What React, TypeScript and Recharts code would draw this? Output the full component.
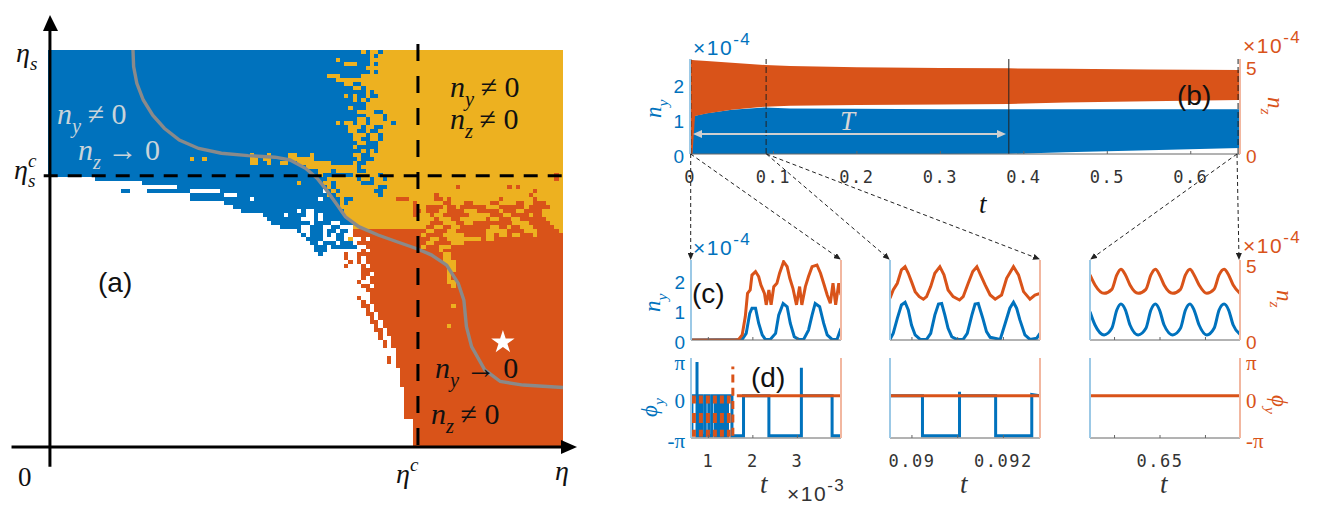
import {
  ComposedChart,
  ScatterChart,
  Scatter,
  Area,
  Line,
  XAxis,
  YAxis,
  ReferenceLine,
  Symbols,
} from "recharts";

const BLUE = "#0072BD";
const ORANGE = "#D95319";
const YELLOW = "#EDB120";
const GRAY = "#8a8a8a";
const SERIF = "'Liberation Serif', serif";
const SANS = "'Liberation Sans', sans-serif";
const MONO = "'DejaVu Sans Mono', monospace";

// phase map, one string per row from the top: letter = phase, number = first column of the run
const NC = 120;
const NR = 100;
const phaseRows = [
  "B0 Y73 B74 Y75 B77 Y78",
  "B0 Y75 B76 Y77",
  "B0 Y67 B68 Y75",
  "B0 Y69 B72 Y75 B76 Y77",
  "B0 Y74",
  "B0 Y75 B76 Y77",
  "B0 Y65 B68 Y73",
  "B0 Y67",
  "B0 Y69 B71 Y73",
  "B0 Y71 B73 Y74",
  "B0 Y74 B75 Y76",
  "B0 Y69 B70 Y71 B72 Y74 B75 Y77",
  "B0 Y71 B72 Y73 B74 Y75",
  "B0 Y74",
  "B0 Y70 B71 Y74",
  "B0 Y72 B76 Y78",
  "B0 Y74 B78 Y79",
  "B0 Y72 B74 Y75 B78 Y79",
  "B0 Y67 B68 Y69 B71 Y72 B74 Y75 B80 Y81",
  "B0 Y70 B73 Y74 B76 Y78",
  "B0 Y70 B72 Y74 B75 Y77",
  "B0 Y71 B74 Y75 B77 Y78",
  "B0 Y71 B73 Y75 B77 Y78",
  "B0 Y72 B74 Y77",
  "B0 Y71 B72 Y77",
  "B0 Y73 B74 Y75 B76 Y77",
  "B0 Y47 B48 Y51 B52 Y56 B58 Y61 B62 Y71 B73 Y75",
  "B0 Y33 B34 Y36 B37 Y47 B49 Y50 B52 Y56 B62 Y72 B73 Y76",
  "B0 Y47 B49 Y51 B52 Y54 B56 Y58 B66 Y71 B72 Y74",
  "B0 Y60 B72 Y73",
  "B0 Y63 B66 Y67 B72 Y74",
  "B0 Y63 B64 Y71 B77 Y78 O118 Y119",
  "W0 B11 Y65 B72 Y73 B75 Y76 B78 Y79 O118 Y119",
  "W0 B22 Y58 B59 Y64 B66 Y67 B73 Y76",
  "W0 B30 Y65 B66 Y67 B77 Y79 O95 Y96 O107 Y108 O109 Y110",
  "W0 B17 W19 B23 W33 B40 W64 B65 Y66 B67 Y68 B76 Y78 O113 Y114",
  "W0 B33 W41 B44 Y65 B66 Y67 B77 Y78 O90 Y91 O112 Y113",
  "W0 B33 W47 B48 W63 B64 Y68 B69 Y71 O81 Y84 O90 Y92 O93 Y94 O105 Y106 O113 Y114",
  "W0 B41 Y68 B69 Y70 O85 Y86 O92 Y94 O97 Y99 O103 Y105 O109 Y111 O113 Y116",
  "W0 B43 Y68 O85 Y86 O88 Y92 O93 Y95 O96 Y102 O105 Y111 O112 Y117",
  "W0 B45 W58 B59 W60 B62 Y69 O85 Y87 O88 Y91 O93 Y97 O100 Y105 O106 Y109 O111 Y115",
  "W0 B50 W55 B56 W60 B62 W63 B64 Y69 O85 Y86 O89 Y90 O92 Y98 O103 Y106 O108 Y112 O113 Y115",
  "W0 B51 W59 B62 W63 B64 Y70 O90 Y91 O94 Y96 O102 Y103 O105 Y108 O110 Y116",
  "W0 B52 W61 B62 W66 B68 Y71 O89 Y92 O95 Y97 O99 Y108 O112 Y117",
  "W0 B54 W59 B61 W64 B66 W68 Y71 O88 Y90 O92 Y94 O96 Y103 O105 Y107 O108 Y110 O113 Y118",
  "W0 B58 W59 B61 W64 B65 W67 B68 W70 O71 Y88 O90 Y93 O95 Y102 O107 Y111 O114 Y119",
  "W0 B59 W60 B61 W64 B65 W66 B67 W69 O71 Y87 O88 Y92 O97 Y102 O104 Y105 O107 Y108 O110 Y113 O114",
  "W0 B60 W64 B67 W69 Y70 W71 O73 W74 O75 Y89 O91 Y93 O101 Y102 O104",
  "W0 B61 W63 B64 W67 B68 W71 O72 Y88 O90 Y94 O97",
  "W0 B62 W65 B66 W72 O74 Y87 O88 Y91 O94",
  "W0 B62 W65 O73 W74 O75 Y91 O92",
  "W0 B63 W64 O69 W70 O72 Y92 O94",
  "W0 O69 W70 O72 W73 O74 Y92 O94",
  "W0 O70 W71 O72 W73 O74 Y92 O95",
  "W0 O69 W70 O73 W74 O75 Y93 O95",
  "W0 O73 Y93 O95",
  "W0 O73 W75 O76 Y93 O94",
  "W0 O73 W74 O75 Y93 O94",
  "W0 O72 W73 O75 Y93 O95",
  "W0 O73 W75 O76 Y94 O95",
  "W0 O74",
  "W0 O75",
  "W0 O72 W73 O75",
  "W0 O73 W74 O75",
  "W0 O73 W75 O76 Y94 O95",
  "W0 O74 W75 O76",
  "W0 O74 W76 O77",
  "W0 O75 W76 O77",
  "W0 O75 W77 O78",
  "W0 O76 W77 O78 Y93 O94",
  "W0 O76 W78 O79",
  "W0 O77 W78 O79",
  "W0 O77 W78 O80",
  "W0 O78 W79 O80",
  "W0 O78 W79 O80",
  "W0 O81",
  "W0 O81",
  "W0 O79 W80 O81",
  "W0 O79 W80 O81",
  "W0 O81",
  "W0 O82",
  "W0 O82",
  "W0 O82",
  "W0 O82",
  "W0 O82",
  "W0 O83",
  "W0 O83",
  "W0 O83",
  "W0 O83",
  "W0 O83",
  "W0 O83",
  "W0 O83",
  "W0 O83",
  "W0 O85",
  "W0 O85",
  "W0 O85",
  "W0 O85",
  "W0 O85",
  "W0 O85",
  "W0 O85",
];

// grey separatrix over the phase map (column, row)
const curveCol = [19.8, 19.95, 20.7, 22.2, 24.4, 27.1, 30.6, 35.1, 40.4, 46.6, 52.9, 56.4, 60, 62.7, 64.9, 67.1, 69.3, 72.4, 76.9, 81.3, 85.8, 89.3, 92.9, 95.6, 96.9, 97.5, 98.7, 101.8, 105.4, 110.7, 120];
const curveRow = [0, 4.2, 8.4, 12.6, 16.4, 19.7, 22.7, 24.8, 26, 26.6, 27, 27.7, 29.8, 32.3, 35.3, 38.6, 42, 44.5, 46.6, 48.3, 50, 51.6, 54.2, 58.8, 63, 69.7, 74.7, 80.6, 83.5, 84.4, 85];

// (b) long run envelopes
const bTimes = [0, 0.003, 0.006, 0.02, 0.05, 0.09, 0.12, 0.2, 0.3, 0.382, 0.45, 0.55, 0.659];
const bBlueLow = [0, 0, 0, 0, 0, 0, 0, 0, 0, 0.005, 0.05, 0.11, 0.17];
const bBlueHigh = [0, 1.02, 1.09, 1.16, 1.26, 1.33, 1.3, 1.29, 1.28, 1.28, 1.28, 1.28, 1.28];
const bOrangeLow = [0, 0, 2.16, 2.3, 2.52, 2.69, 2.74, 2.78, 2.82, 2.84, 2.93, 3.0, 3.07];
const bOrangeHigh = [5.34, 5.34, 5.33, 5.28, 5.18, 5.06, 5.0, 4.93, 4.89, 4.87, 4.84, 4.8, 4.77];

// (c) onset, t in units of 1e-3
const c1BlueT = [0.61, 1.76, 1.85, 1.93, 1.98, 2.06, 2.13, 2.21, 2.28, 2.39, 2.51, 2.58, 2.68, 2.77, 2.84, 2.93, 3.03, 3.14, 3.25, 3.33, 3.4, 3.5, 3.59, 3.67, 3.78, 3.89, 3.98];
const c1BlueV = [0, 0.02, 0.22, 0.89, 1.06, 1.06, 0.56, 0.17, 0.02, 0.02, 0.22, 0.83, 1.22, 1.11, 0.56, 0.11, 0.02, 0.02, 0.33, 0.83, 1.22, 1.11, 0.56, 0.17, 0.02, 0.02, 0.39];
const c1OrangeT = [0.61, 1.6, 1.68, 1.76, 1.83, 1.88, 1.94, 1.98, 2.06, 2.13, 2.18, 2.26, 2.3, 2.36, 2.41, 2.47, 2.54, 2.6, 2.69, 2.77, 2.83, 2.9, 2.98, 3.05, 3.1, 3.18, 3.25, 3.33, 3.44, 3.52, 3.59, 3.67, 3.74, 3.8, 3.86, 3.93, 3.98];
const c1OrangeV = [0, 0, 0.04, 0.33, 1.54, 3.07, 3.29, 4.27, 4.5, 4.17, 3.62, 3.07, 2.31, 3.29, 2.31, 3.51, 3.73, 4.39, 5.15, 4.82, 4.06, 3.4, 2.31, 3.51, 2.31, 3.51, 4.17, 4.82, 4.93, 4.39, 3.73, 2.96, 2.41, 3.73, 2.31, 3.73, 2.96];

// (c) middle window
const c2BlueT = [0.08952, 0.08959, 0.08968, 0.08977, 0.08985, 0.08992, 0.08999, 0.09007, 0.09018, 0.09032, 0.09041, 0.0905, 0.09058, 0.09065, 0.09072, 0.09079, 0.09087, 0.09098, 0.09112, 0.09121, 0.09131, 0.09138, 0.09145, 0.09155, 0.09163, 0.09171, 0.09193, 0.09204, 0.09214, 0.09222, 0.09229, 0.09236, 0.09247, 0.09258, 0.09273, 0.0928];
const c2BlueV = [0.02, 0.22, 0.72, 1.17, 1.26, 1.0, 0.5, 0.17, 0.02, 0.02, 0.22, 0.83, 1.2, 1.22, 0.83, 0.39, 0.11, 0.02, 0.02, 0.22, 0.83, 1.2, 1.22, 0.72, 0.28, 0.09, 0.02, 0.56, 1.06, 1.26, 1.06, 0.67, 0.17, 0.02, 0.06, 0.22];
const c2OrangeT = [0.08952, 0.08959, 0.08968, 0.08977, 0.08985, 0.08992, 0.08999, 0.09007, 0.09016, 0.09025, 0.09032, 0.09041, 0.0905, 0.09061, 0.0907, 0.09079, 0.0909, 0.09104, 0.09112, 0.09123, 0.09133, 0.09142, 0.0915, 0.0916, 0.09171, 0.09182, 0.09196, 0.09207, 0.09222, 0.09233, 0.09244, 0.09258, 0.09269, 0.0928];
const c2OrangeV = [2.74, 3.29, 3.73, 4.61, 4.82, 4.39, 3.84, 3.18, 2.85, 2.68, 2.85, 3.51, 4.39, 4.82, 4.28, 3.29, 2.85, 2.63, 2.85, 3.73, 4.5, 4.82, 4.28, 3.62, 2.96, 2.68, 2.96, 4.06, 4.82, 4.28, 3.18, 2.68, 2.96, 3.07];

// (c) late window
const c3T = [0.64846, 0.64857, 0.64877, 0.64894, 0.64905, 0.64914, 0.64924, 0.64934, 0.64952, 0.64969, 0.6498, 0.6499, 0.64999, 0.65009, 0.65028, 0.65045, 0.65056, 0.65066, 0.65075, 0.65086, 0.65103, 0.65119, 0.6513, 0.65141, 0.65151, 0.65161, 0.65176];
const c3BlueV = [0.94, 0.5, 0.17, 0.39, 1.0, 1.2, 1.0, 0.5, 0.17, 0.39, 1.0, 1.2, 1.0, 0.5, 0.17, 0.39, 1.0, 1.2, 1.0, 0.5, 0.17, 0.39, 1.0, 1.2, 1.0, 0.5, 0.19];
const c3OrangeV = [4.28, 3.62, 3.07, 3.33, 4.28, 4.65, 4.28, 3.62, 3.07, 3.33, 4.28, 4.65, 4.28, 3.62, 3.07, 3.33, 4.28, 4.65, 4.28, 3.62, 3.07, 3.33, 4.28, 4.65, 4.28, 3.62, 3.07];

// (d) phases
const d1BlueT = [0.63, 0.63, 0.745, 0.745, 0.745, 0.81, 0.81, 0.86, 0.86, 0.93, 0.93, 1.01, 1.01, 1.08, 1.08, 1.16, 1.16, 1.21, 1.21, 1.27, 1.27, 1.33, 1.33, 1.38, 1.38, 1.43, 1.43, 1.53, 1.53, 1.53, 1.79, 1.79, 2.36, 2.36, 3.09, 3.09, 3.09, 3.78, 3.78, 3.98];
const d1BlueV = [-3.14, 0, 0, 2.65, -3.14, -3.14, 0, 0, -3.14, -3.14, 0, 0, -3.14, -3.14, 0, 0, -3.14, -3.14, 0, 0, -3.14, -3.14, 0, 0, -3.14, -3.14, 0, 0, -3.14, -3.14, -3.14, 0, 0, -3.14, -3.14, 2.2, 0, 0, -3.14, -3.14];
const d1BandT = [0.63, 1.5];
const d1BandTop = [-0.3, -0.3];
const d1BandMid = [-1.75, -1.75];
const d1BandLow = [-2.95, -2.95];
const d1OrangeGapT = [1.55, 1.55];
const d1OrangeGapV = [-3.14, 2.3];
const d1OrangeFlatT = [1.64, 3.98];
const d1OrangeFlatV = [0, 0];
const d2BlueT = [0.08952, 0.09023, 0.09023, 0.09104, 0.09104, 0.09104, 0.09183, 0.09183, 0.09262, 0.09262, 0.0928];
const d2BlueV = [0, 0, -3.14, -3.14, 0.31, 0, 0, -3.14, -3.14, 0.1, 0];
const d2OrangeT = [0.08952, 0.0928];
const d2OrangeV = [0, 0];
const d3OrangeT = [0.64846, 0.65176];
const d3OrangeV = [0, 0];

const xy = (xs: number[], ys: number[]) => xs.map((t, i) => ({ t, v: ys[i] }));

type Run = { col: number; row: number; len: number };

function runsOf(letter: string): Run[] {
  const out: Run[] = [];
  phaseRows.forEach((line, row) => {
    const parts = line.split(" ");
    parts.forEach((p, i) => {
      if (p[0] !== letter) return;
      const start = Number(p.slice(1));
      const end = i + 1 < parts.length ? Number(parts[i + 1].slice(1)) : NC;
      out.push({ col: start + (end - start) / 2, row: row + 0.5, len: end - start });
    });
  });
  return out;
}

const mapLeft = 48;
const mapTop = 50;
const mapW = 515;
const mapH = 397;
const mapMargin = { left: mapLeft, top: mapTop, right: 600 - mapLeft - mapW, bottom: 532 - mapTop - mapH };

function cellShape(fill: string) {
  return (p: any) => {
    const w = (p.payload.len * mapW) / NC;
    const h = mapH / NR;
    const x0 = Math.round(p.cx - w / 2);
    const x1 = Math.round(p.cx + w / 2);
    const y0 = Math.round(p.cy - h / 2);
    const y1 = Math.round(p.cy + h / 2);
    return <rect x={x0} y={y0} width={x1 - x0} height={y1 - y0} fill={fill} shapeRendering="crispEdges" />;
  };
}

const noDot = () => <g />;

function MapAxes() {
  return (
    <>
      <XAxis type="number" dataKey="col" domain={[0, NC]} hide allowDataOverflow />
      <YAxis type="number" dataKey="row" domain={[0, NR]} reversed hide allowDataOverflow />
    </>
  );
}

function PhaseMap() {
  return (
    <>
      <div style={{ position: "absolute", left: 0, top: 0 }}>
        <ScatterChart width={600} height={532} margin={mapMargin}>
          <XAxis type="number" dataKey="col" domain={[0, NC]} hide allowDataOverflow />
          <YAxis type="number" dataKey="row" domain={[0, NR]} reversed hide allowDataOverflow />
          <Scatter data={runsOf("B")} shape={cellShape(BLUE)} isAnimationActive={false} />
          <Scatter data={runsOf("Y")} shape={cellShape(YELLOW)} isAnimationActive={false} />
          <Scatter data={runsOf("O")} shape={cellShape(ORANGE)} isAnimationActive={false} />
          <Scatter
            data={curveCol.map((col, i) => ({ col, row: curveRow[i] }))}
            line={{ stroke: GRAY, strokeWidth: 3.4 }}
            shape={noDot}
            isAnimationActive={false}
          />
          <Scatter
            data={[{ col: 106, row: 73.6 }]}
            shape={(p: any) => <Symbols cx={p.cx} cy={p.cy} type="star" size={170} fill="#fff" />}
            isAnimationActive={false}
          />
        </ScatterChart>
      </div>
      {/* second layer on the same scales: reference lines would sit under the cells otherwise */}
      <div style={{ position: "absolute", left: 0, top: 0 }}>
        <ScatterChart width={600} height={532} margin={mapMargin}>
          <XAxis type="number" dataKey="col" domain={[0, NC]} hide allowDataOverflow />
          <YAxis type="number" dataKey="row" domain={[0, NR]} reversed hide allowDataOverflow />
          <ReferenceLine segment={[{ x: 86.2, y: -1.5 }, { x: 86.2, y: 100 }]} stroke="#000" strokeWidth={3} strokeDasharray="17 15" ifOverflow="visible" />
          <ReferenceLine segment={[{ x: -1, y: 31.7 }, { x: 121, y: 31.7 }]} stroke="#000" strokeWidth={3} strokeDasharray="14 10" ifOverflow="visible" />
          <ReferenceLine segment={[{ x: 0.45, y: -7 }, { x: 0.45, y: 105 }]} stroke="#000" strokeWidth={3} ifOverflow="visible" />
          <ReferenceLine segment={[{ x: -8.5, y: 100 }, { x: 121, y: 100 }]} stroke="#000" strokeWidth={3} ifOverflow="visible" />
        </ScatterChart>
      </div>
    </>
  );
}

const blankTick = () => <g />;

type PanelProps = {
  left: number;
  top: number;
  w: number;
  h: number;
  domain: [number, number];
  xTicks: number[];
  xLabel?: (v: number) => string;
  yLeft: { domain: [number, number]; ticks: number[]; labels?: Record<number, string> };
  yRight: { domain: [number, number]; ticks: number[]; labels?: Record<number, string> };
  showLeft?: boolean;
  showRight?: boolean;
  children: React.ReactNode;
};

function Panel(p: PanelProps) {
  const pad = 40;
  const tl = 3;
  const yTick = (color: string, side: "l" | "r", labels?: Record<number, string>) => (t: any) => (
    <text
      x={t.x}
      y={t.y + (labels ? 12 : 9)}
      textAnchor={side === "l" ? "end" : "start"}
      fill={color}
      fontFamily={labels ? SERIF : SANS}
      fontSize={labels ? 21 : 19}
    >
      {labels ? labels[t.payload.value] : t.payload.value}
    </text>
  );
  return (
    <div style={{ position: "absolute", left: p.left - pad, top: p.top - 30 }}>
      <ComposedChart width={p.w + 2 * pad} height={p.h + 30 + pad} margin={{ left: 0, right: 0, top: 30, bottom: 0 }}>
        <XAxis
          type="number"
          dataKey="t"
          domain={p.domain}
          ticks={p.xTicks}
          interval={0}
          allowDataOverflow
          height={pad}
          stroke="#666"
          tickSize={-tl}
          tickMargin={tl}
          tick={
            p.xLabel
              ? (t: any) => (
                  <text x={t.x} y={t.y + 29} textAnchor="middle" fill="#333" fontFamily={MONO} fontSize={17} letterSpacing={1.5}>
                    {p.xLabel!(t.payload.value)}
                  </text>
                )
              : blankTick
          }
        />
        <XAxis
          xAxisId="top"
          orientation="top"
          type="number"
          dataKey="t"
          domain={p.domain}
          ticks={p.xTicks}
          interval={0}
          allowDataOverflow
          height={0}
          stroke="#666"
          tickSize={-tl}
          tick={blankTick}
        />
        <YAxis
          yAxisId="l"
          type="number"
          domain={p.yLeft.domain}
          ticks={p.yLeft.ticks}
          interval={0}
          allowDataOverflow
          width={pad}
          axisLine={{ stroke: "#9cc9e6", strokeWidth: 2 }}
          tickLine={false}
          tickSize={0}
          tickMargin={6}
          tick={p.showLeft ? yTick(BLUE, "l", p.yLeft.labels) : blankTick}
        />
        <YAxis
          yAxisId="r"
          orientation="right"
          type="number"
          domain={p.yRight.domain}
          ticks={p.yRight.ticks}
          interval={0}
          allowDataOverflow
          width={pad}
          axisLine={{ stroke: "#f2b7a0", strokeWidth: 2 }}
          tickLine={false}
          tickSize={0}
          tickMargin={6}
          tick={p.showRight ? yTick(ORANGE, "r", p.yRight.labels) : blankTick}
        />
        {p.children}
      </ComposedChart>
    </div>
  );
}

const nyAxisB = { domain: [0, 2.71] as [number, number], ticks: [0, 1, 2] };
const nzAxisB = { domain: [0, 5.4] as [number, number], ticks: [0, 5] };
const nyAxisC = { domain: [0, 2.67] as [number, number], ticks: [0, 1, 2] };
const nzAxisC = { domain: [0, 5.26] as [number, number], ticks: [0, 5] };
const PI_LABELS = { 2.96: "π", 0: "0", [-3.14]: "-π" } as Record<number, string>;
const phiAxis = { domain: [-3.32, 2.96] as [number, number], ticks: [-3.14, 0, 2.96], labels: PI_LABELS };

function series(data: { t: number; v: number }[], axis: "l" | "r", color: string, extra: any = {}) {
  return (
    <Line
      data={data}
      dataKey="v"
      yAxisId={axis}
      stroke={color}
      strokeWidth={3}
      dot={false}
      type="linear"
      isAnimationActive={false}
      legendType="none"
      {...extra}
    />
  );
}

function Mth({ x, y, base, sub, sup, tail, size = 27, fill = "#111", rotate }: any) {
  const tr = rotate ? `rotate(${rotate} ${x} ${y})` : undefined;
  const drop = size * 0.3;
  const rise = size * 0.42;
  return (
    <text x={x} y={y} fontFamily={SERIF} fontSize={size} fill={fill} transform={tr}>
      <tspan fontStyle="italic">{base}</tspan>
      {sup ? (
        <tspan fontStyle="italic" fontSize={size * 0.68} dy={-rise}>
          {sup}
        </tspan>
      ) : null}
      {sub ? (
        <tspan fontStyle="italic" fontSize={size * 0.68} dy={sup ? rise + drop : drop} dx={sup ? -size * 0.3 : 0}>
          {sub}
        </tspan>
      ) : null}
      {tail ? (
        <tspan dy={sub ? -drop : 0} dx={size * 0.22}>
          {tail}
        </tspan>
      ) : null}
    </text>
  );
}

function Times({ x, y, color, exp }: { x: number; y: number; color: string; exp: string }) {
  return (
    <text x={x} y={y} fontFamily={SANS} fontSize={21} fill={color} letterSpacing={1.5}>
      ×10
      <tspan fontSize={17} dy={-10}>
        {exp}
      </tspan>
    </text>
  );
}

const links = [
  [690.7, 154, 690.7, 259],
  [690.7, 154, 840, 259],
  [766.4, 154, 889, 259],
  [766.4, 154, 1039, 259],
  [1237, 154, 1091, 259],
  [1237, 154, 1239, 259],
];

function Overlay() {
  return (
    <svg width={1329} height={532} style={{ position: "absolute", left: 0, top: 0, pointerEvents: "none" }}>
      <defs>
        <marker id="tip" markerWidth="7" markerHeight="6" refX="6" refY="3" orient="auto">
          <path d="M0,0 L7,3 L0,6 Z" fill="#222" />
        </marker>
      </defs>
      {/* axis heads of the phase map */}
      <polygon points="50,15 43,31 58,31" fill="#000" />
      <polygon points="577,447 561,440 561,454" fill="#000" />

      <Mth x={16} y={62} base="η" sub="s" size={28} />
      <Mth x={14} y={179} base="η" sup="c" sub="s" size={28} />
      <Mth x={450} y={97} base="n" sub="y" tail="≠ 0" size={30} />
      <Mth x={450} y={129} base="n" sub="z" tail="≠ 0" size={30} />
      <Mth x={57} y={124} base="n" sub="y" tail="≠ 0" size={30} fill="#c9d4da" />
      <Mth x={78} y={160} base="n" sub="z" tail="→ 0" size={30} fill="#c9d4da" />
      <Mth x={435} y={378} base="n" sub="y" tail="→ 0" size={30} />
      <Mth x={431} y={424} base="n" sub="z" tail="≠ 0" size={30} />
      <text x={18} y={486} fontFamily={SERIF} fontSize={27} fill="#111">0</text>
      <Mth x={396} y={483} base="η" sup="c" size={28} />
      <Mth x={555} y={480} base="η" size={28} />
      <text x={98} y={292} fontFamily={SANS} fontSize={28} fill="#111">(a)</text>

      {links.map(([x1, y1, x2, y2], i) => (
        <line key={i} x1={x1} y1={y1} x2={x2} y2={y2} stroke="#222" strokeWidth={1} strokeDasharray="4 3" markerEnd="url(#tip)" />
      ))}

      {/* time span marker in (b) */}
      <line x1={698} y1={134} x2={1000} y2={134} stroke="#cfcfcf" strokeWidth={2} />
      <polygon points="693,134 702,130 702,138" fill="#cfcfcf" />
      <polygon points="1006,134 997,130 997,138" fill="#cfcfcf" />
      <Mth x={840} y={130} base="T" size={27} fill="#d6d6d6" />

      <Times x={693} y={55} color={BLUE} exp="-4" />
      <Times x={1243} y={53} color={ORANGE} exp="-4" />
      <Times x={693} y={255} color={BLUE} exp="-4" />
      <Times x={1243} y={253} color={ORANGE} exp="-4" />
      <Times x={787} y={501} color="#333" exp="-3" />

      <Mth x={661} y={118} base="n" sub="y" size={23} fill={BLUE} rotate={-90} />
      <Mth x={1268} y={97} base="n" sub="z" size={23} fill={ORANGE} rotate={90} />
      <Mth x={660} y={312} base="n" sub="y" size={23} fill={BLUE} rotate={-90} />
      <Mth x={1277} y={290} base="n" sub="z" size={23} fill={ORANGE} rotate={90} />
      <Mth x={657} y={417} base="ϕ" sub="y" size={23} fill={BLUE} rotate={-90} />
      <Mth x={1272} y={395} base="ϕ" sub="y" size={23} fill={ORANGE} rotate={90} />

      <Mth x={979} y={213} base="t" size={27} />
      <Mth x={760} y={493} base="t" size={27} fill="#333" />
      <Mth x={960} y={493} base="t" size={27} fill="#333" />
      <Mth x={1160} y={493} base="t" size={27} fill="#333" />

      <text x={1177} y={105} fontFamily={SANS} fontSize={28} fill="#111">(b)</text>
      <text x={692} y={303} fontFamily={SANS} fontSize={28} fill="#111">(c)</text>
      <text x={751} y={387} fontFamily={SANS} fontSize={28} fill="#111">(d)</text>
    </svg>
  );
}

export default function App() {
  const bBlue = bTimes.map((t, i) => ({ t, range: [bBlueLow[i], bBlueHigh[i]] }));
  const bOrange = bTimes.map((t, i) => ({ t, range: [bOrangeLow[i], bOrangeHigh[i]] }));
  return (
    <div style={{ position: "absolute", left: 0, top: 0, width: 1329, height: 532, background: "#fff" }}>
      <PhaseMap />

      {/* (b) */}
      <Panel
        left={690}
        top={59}
        w={550}
        h={95}
        domain={[0, 0.659]}
        xTicks={[0, 0.1, 0.2, 0.3, 0.4, 0.5, 0.6]}
        xLabel={(v) => String(v)}
        yLeft={nyAxisB}
        yRight={nzAxisB}
        showLeft
        showRight
      >
        <Area data={bBlue} dataKey="range" yAxisId="l" stroke="none" fill={BLUE} fillOpacity={1} type="linear" isAnimationActive={false} dot={false} />
        <Area data={bOrange} dataKey="range" yAxisId="r" stroke="none" fill={ORANGE} fillOpacity={1} type="linear" isAnimationActive={false} dot={false} />
        <ReferenceLine x={0.001} yAxisId="l" stroke="#222" strokeDasharray="6 3" />
        <ReferenceLine x={0.0912} yAxisId="l" stroke="#222" strokeDasharray="6 3" />
        <ReferenceLine x={0.382} yAxisId="l" stroke="#222" />
        <ReferenceLine x={0.6567} yAxisId="l" stroke="#222" strokeDasharray="6 3" />
      </Panel>

      {/* (c) */}
      <Panel left={691} top={260} w={150} h={80} domain={[0.61, 3.98]} xTicks={[1, 2, 3]} yLeft={nyAxisC} yRight={nzAxisC} showLeft>
        {series(xy(c1BlueT, c1BlueV), "l", BLUE)}
        {series(xy(c1OrangeT, c1OrangeV), "r", ORANGE)}
      </Panel>
      <Panel left={890} top={260} w={150} h={80} domain={[0.08952, 0.0928]} xTicks={[0.09, 0.091, 0.092]} yLeft={nyAxisC} yRight={nzAxisC}>
        {series(xy(c2BlueT, c2BlueV), "l", BLUE)}
        {series(xy(c2OrangeT, c2OrangeV), "r", ORANGE)}
      </Panel>
      <Panel left={1090} top={260} w={150} h={80} domain={[0.64846, 0.65176]} xTicks={[0.649, 0.65, 0.651]} yLeft={nyAxisC} yRight={nzAxisC} showRight>
        {series(xy(c3T, c3BlueV), "l", BLUE, { type: "monotone" })}
        {series(xy(c3T, c3OrangeV), "r", ORANGE, { type: "monotone" })}
      </Panel>

      {/* (d) */}
      <Panel left={691} top={358} w={150} h={80} domain={[0.61, 3.98]} xTicks={[1, 2, 3]} xLabel={(v) => String(v)} yLeft={phiAxis} yRight={phiAxis} showLeft>
        {series(xy(d1BlueT, d1BlueV), "l", BLUE)}
        {series(xy(d1BandT, d1BandTop), "r", ORANGE, { strokeWidth: 8, strokeDasharray: "4 3" })}
        {series(xy(d1BandT, d1BandMid), "r", ORANGE, { strokeWidth: 10, strokeDasharray: "4 3" })}
        {series(xy(d1BandT, d1BandLow), "r", ORANGE, { strokeWidth: 7, strokeDasharray: "4 3" })}
        {series(xy(d1OrangeGapT, d1OrangeGapV), "r", ORANGE, { strokeDasharray: "8 5.3" })}
        {series(xy(d1OrangeFlatT, d1OrangeFlatV), "r", ORANGE)}
      </Panel>
      <Panel
        left={890}
        top={358}
        w={150}
        h={80}
        domain={[0.08952, 0.0928]}
        xTicks={[0.09, 0.091, 0.092]}
        xLabel={(v) => (v === 0.091 ? "" : String(v))}
        yLeft={phiAxis}
        yRight={phiAxis}
      >
        {series(xy(d2BlueT, d2BlueV), "l", BLUE)}
        {series(xy(d2OrangeT, d2OrangeV), "r", ORANGE)}
      </Panel>
      <Panel
        left={1090}
        top={358}
        w={150}
        h={80}
        domain={[0.64846, 0.65176]}
        xTicks={[0.649, 0.65, 0.651]}
        xLabel={(v) => (v === 0.65 ? "0.65" : "")}
        yLeft={phiAxis}
        yRight={phiAxis}
        showRight
      >
        {series(xy(d3OrangeT, d3OrangeV), "r", ORANGE)}
      </Panel>

      <Overlay />
    </div>
  );
}
